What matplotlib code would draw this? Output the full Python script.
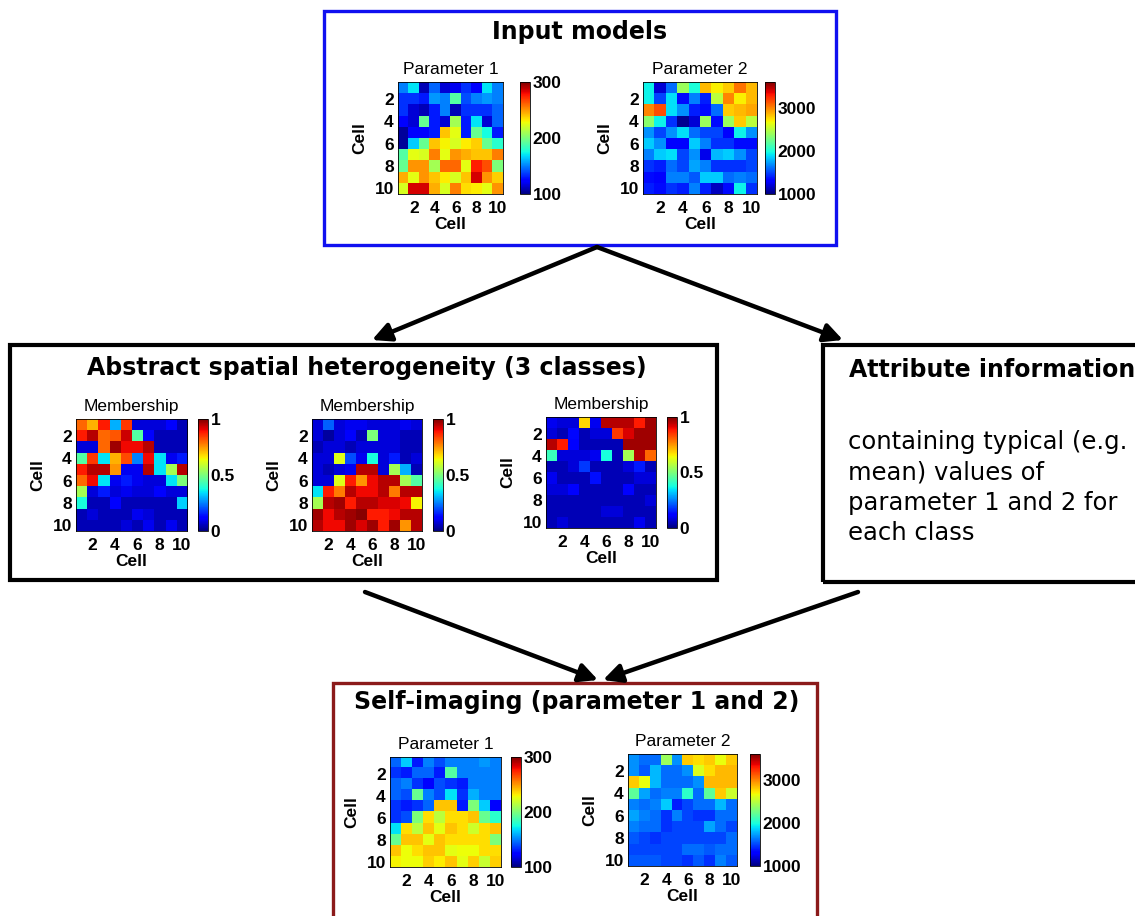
import matplotlib
matplotlib.use("Agg")
import matplotlib.pyplot as plt
import numpy as np
from matplotlib.patches import Rectangle, FancyArrowPatch

W, H = 1135, 916

# ---- data (10x10 cells, row 1 at top) ----
input_p1 = [
    [150, 170, 110, 145, 115, 120, 135, 125, 170, 150],
    [135, 135, 130, 155, 150, 190, 140, 150, 155, 150],
    [135, 115, 110, 130, 150, 110, 135, 135, 135, 145],
    [125, 115, 195, 130, 115, 210, 130, 170, 115, 145],
    [105, 125, 125, 130, 240, 225, 130, 195, 175, 130],
    [105, 165, 195, 240, 230, 222, 232, 238, 195, 180],
    [190, 225, 222, 255, 225, 250, 245, 240, 240, 255],
    [195, 250, 250, 210, 260, 260, 225, 275, 265, 200],
    [245, 225, 250, 240, 232, 222, 240, 285, 250, 238],
    [222, 285, 285, 245, 222, 255, 235, 232, 225, 250],
]
input_p2 = [
    [1950, 1200, 1600, 2400, 2000, 2850, 2700, 2800, 3050, 2850],
    [1950, 1500, 1900, 1350, 1650, 1400, 2500, 3000, 2700, 2850],
    [3000, 3150, 1900, 1700, 1400, 1350, 1600, 2800, 2850, 2900],
    [2350, 1950, 1450, 1050, 1200, 2400, 1350, 2400, 2800, 2500],
    [1700, 1500, 1700, 1900, 1600, 1500, 1500, 1300, 1950, 1700],
    [1850, 1700, 1300, 1300, 1850, 1650, 1450, 1450, 1350, 1350],
    [1650, 1850, 1900, 1500, 1700, 1250, 1800, 1850, 1700, 1500],
    [1450, 1400, 1600, 1500, 1750, 1650, 1450, 1450, 1450, 1500],
    [1350, 1300, 1650, 1650, 1550, 1850, 1850, 1600, 1650, 1600],
    [1400, 1350, 1450, 1400, 1650, 1400, 1150, 1350, 1950, 1450],
]
member_1 = [
    [0.80, 0.72, 0.88, 0.30, 0.85, 0.08, 0.08, 0.08, 0.12, 0.05],
    [0.88, 0.95, 0.80, 0.82, 0.93, 0.45, 0.12, 0.05, 0.05, 0.05],
    [0.08, 0.08, 0.80, 0.97, 0.90, 0.90, 0.95, 0.05, 0.05, 0.05],
    [0.45, 0.85, 0.35, 0.72, 0.83, 0.25, 0.90, 0.35, 0.10, 0.15],
    [0.88, 0.95, 0.95, 0.75, 0.10, 0.10, 0.95, 0.35, 0.55, 0.95],
    [0.80, 0.90, 0.35, 0.10, 0.15, 0.10, 0.08, 0.08, 0.35, 0.50],
    [0.55, 0.08, 0.15, 0.08, 0.10, 0.08, 0.08, 0.12, 0.08, 0.08],
    [0.38, 0.05, 0.05, 0.12, 0.05, 0.05, 0.05, 0.05, 0.05, 0.33],
    [0.05, 0.08, 0.05, 0.05, 0.05, 0.10, 0.08, 0.05, 0.05, 0.05],
    [0.05, 0.05, 0.05, 0.05, 0.08, 0.05, 0.10, 0.05, 0.10, 0.05],
]
member_2 = [
    [0.08, 0.22, 0.08, 0.10, 0.10, 0.08, 0.08, 0.08, 0.10, 0.08],
    [0.08, 0.03, 0.08, 0.12, 0.05, 0.50, 0.08, 0.08, 0.05, 0.05],
    [0.05, 0.08, 0.08, 0.05, 0.08, 0.08, 0.08, 0.08, 0.05, 0.05],
    [0.08, 0.08, 0.62, 0.20, 0.10, 0.38, 0.08, 0.15, 0.05, 0.08],
    [0.08, 0.05, 0.08, 0.10, 0.95, 0.95, 0.08, 0.55, 0.30, 0.05],
    [0.08, 0.08, 0.62, 0.88, 0.75, 0.90, 0.95, 0.95, 0.55, 0.45],
    [0.35, 0.88, 0.78, 0.95, 0.90, 0.90, 0.95, 0.78, 0.95, 0.95],
    [0.55, 0.95, 0.97, 0.88, 0.95, 0.95, 0.92, 0.92, 0.90, 0.65],
    [0.97, 0.90, 0.95, 0.97, 0.99, 0.88, 0.88, 0.90, 0.95, 0.95],
    [0.95, 0.90, 0.90, 0.97, 0.92, 0.97, 0.88, 0.97, 0.75, 0.95],
]
member_3 = [
    [0.10, 0.08, 0.08, 0.68, 0.10, 0.95, 0.95, 0.95, 0.88, 0.97],
    [0.08, 0.05, 0.13, 0.05, 0.08, 0.08, 0.85, 0.92, 0.97, 0.97],
    [0.95, 0.88, 0.12, 0.05, 0.05, 0.05, 0.05, 0.97, 0.97, 0.97],
    [0.42, 0.08, 0.08, 0.08, 0.10, 0.38, 0.05, 0.55, 0.95, 0.80],
    [0.05, 0.05, 0.08, 0.18, 0.05, 0.05, 0.05, 0.08, 0.15, 0.05],
    [0.10, 0.05, 0.05, 0.05, 0.14, 0.05, 0.05, 0.05, 0.08, 0.08],
    [0.08, 0.08, 0.12, 0.05, 0.05, 0.05, 0.05, 0.12, 0.05, 0.05],
    [0.05, 0.05, 0.05, 0.05, 0.05, 0.05, 0.05, 0.05, 0.05, 0.08],
    [0.05, 0.05, 0.05, 0.05, 0.05, 0.08, 0.08, 0.05, 0.05, 0.05],
    [0.05, 0.08, 0.05, 0.05, 0.05, 0.05, 0.05, 0.05, 0.10, 0.05],
]
self_p1 = [
    [145, 165, 130, 150, 140, 150, 150, 150, 155, 150],
    [135, 130, 145, 145, 130, 190, 150, 150, 150, 150],
    [145, 150, 135, 125, 140, 135, 130, 150, 150, 150],
    [145, 140, 195, 150, 140, 170, 135, 160, 150, 150],
    [135, 130, 135, 145, 240, 240, 130, 200, 165, 125],
    [135, 140, 200, 235, 215, 235, 235, 240, 195, 180],
    [170, 235, 215, 240, 225, 240, 235, 220, 235, 240],
    [195, 240, 240, 225, 240, 235, 235, 235, 235, 200],
    [240, 228, 235, 240, 240, 225, 228, 228, 235, 235],
    [230, 228, 228, 238, 232, 240, 225, 238, 218, 238],
]
self_p2 = [
    [1700, 1600, 1600, 2400, 1700, 2800, 2750, 2800, 2650, 2800],
    [1700, 1550, 1800, 1600, 1600, 1700, 2600, 2750, 2850, 2850],
    [2800, 2650, 1800, 1600, 1600, 1600, 1700, 2850, 2850, 2850],
    [2200, 1750, 1600, 1650, 1650, 2050, 1600, 2200, 2800, 2550],
    [1650, 1600, 1650, 1850, 1400, 1500, 1600, 1600, 1800, 1600],
    [1750, 1650, 1600, 1450, 1650, 1500, 1450, 1450, 1600, 1600],
    [1650, 1600, 1600, 1450, 1500, 1500, 1500, 1750, 1600, 1500],
    [1550, 1500, 1450, 1500, 1500, 1500, 1500, 1500, 1500, 1600],
    [1500, 1500, 1500, 1500, 1500, 1600, 1600, 1550, 1600, 1600],
    [1550, 1550, 1550, 1500, 1500, 1450, 1550, 1450, 1650, 1550],
]

cell_ticks = [2, 4, 6, 8, 10]
p1_range, p1_ticks = (100, 300), [100, 200, 300]
p2_range, p2_ticks = (1000, 3600), [1000, 2000, 3000]
mem_range, mem_ticks = (0, 1), [0, 0.5, 1]
mem_ticklabels = ["0", "0.5", "1"]

fig = plt.figure(figsize=(W / 100, H / 100), dpi=100)
ARIAL = "Liberation Sans"
TITLE_FONT = "DejaVu Sans"
TICK_FS = 12.5


def px_axes(x0, y0, x1, y1):
    return fig.add_axes([x0 / W, 1 - y1 / H, (x1 - x0) / W, (y1 - y0) / H])


def heatmap(data, img_box, cbar_x, title, vrange, cticks, clabels=None):
    x0, y0, x1, y1 = img_box
    ax = px_axes(x0, y0, x1, y1)
    im = ax.imshow(np.array(data), cmap="jet", vmin=vrange[0], vmax=vrange[1],
                   extent=(0.5, 10.5, 10.5, 0.5), aspect="auto",
                   interpolation="nearest")
    ax.set_xticks(cell_ticks)
    ax.set_yticks(cell_ticks)
    ax.set_xticklabels([str(t) for t in cell_ticks], family=ARIAL,
                       fontweight="bold", fontsize=TICK_FS)
    ax.set_yticklabels([str(t) for t in cell_ticks], family=ARIAL,
                       fontweight="bold", fontsize=TICK_FS)
    ax.tick_params(axis="x", length=0, pad=5)
    ax.tick_params(axis="y", length=0, pad=3)
    ax.set_xlabel("Cell", family=ARIAL, fontweight="bold", fontsize=12.5, labelpad=1)
    ax.set_ylabel("Cell", family=ARIAL, fontsize=12.5, fontweight="bold", labelpad=5)
    ax.set_title(title, family=ARIAL, fontsize=12.5, pad=6)
    for s in ax.spines.values():
        s.set_linewidth(0.6)

    cax = px_axes(cbar_x, y0, cbar_x + 10, y1)
    cb = fig.colorbar(im, cax=cax)
    cb.set_ticks(cticks)
    cb.set_ticklabels(clabels if clabels else [str(t) for t in cticks])
    cax.tick_params(length=0, pad=2)
    for lab in cax.get_yticklabels():
        lab.set_family(ARIAL)
        lab.set_fontweight("bold")
        lab.set_fontsize(TICK_FS)
    cb.outline.set_linewidth(0.6)
    return ax


def box(x0, y0, x1, y1, color, lw):
    fig.patches.append(Rectangle((x0 / W, 1 - y1 / H), (x1 - x0) / W, (y1 - y0) / H,
                                 transform=fig.transFigure, fill=False,
                                 edgecolor=color, linewidth=lw, zorder=0))


def arrow(xa, ya, xb, yb):
    fig.patches.append(FancyArrowPatch((xa / W, 1 - ya / H), (xb / W, 1 - yb / H),
                                       transform=fig.transFigure,
                                       arrowstyle="-|>", mutation_scale=28,
                                       color="black", linewidth=3.2,
                                       shrinkA=0, shrinkB=0))


def ftext(x, y, s, **kw):
    fig.text(x / W, 1 - y / H, s, **kw)


# boxes
box(324, 11, 836, 245, "#1010f0", 2.4)
box(10, 345, 717, 580, "black", 3.0)
box(823, 345, 1150, 582, "black", 3.0)
box(333, 683, 817, 930, "#8b1a1a", 2.4)

# arrows
arrow(597, 247, 372, 340)
arrow(597, 247, 843, 340)
arrow(365, 592, 598, 680)
arrow(858, 592, 603, 680)

# section titles
ftext(580, 32, "Input models", family=TITLE_FONT, fontweight="bold",
      fontsize=17, ha="center", va="center")
ftext(367, 368, "Abstract spatial heterogeneity (3 classes)", family=TITLE_FONT,
      fontweight="bold", fontsize=17, ha="center", va="center")
ftext(849, 370, "Attribute information", family=TITLE_FONT, fontweight="bold",
      fontsize=17, ha="left", va="center")
ftext(577, 702, "Self-imaging (parameter 1 and 2)", family=TITLE_FONT,
      fontweight="bold", fontsize=17, ha="center", va="center")

attr_lines = ["containing typical (e.g.", "mean) values of",
              "parameter 1 and 2 for", "each class"]
for i, line in enumerate(attr_lines):
    ftext(848, 442 + 30.5 * i, line, family=TITLE_FONT, fontsize=17.5,
          ha="left", va="center")

# heatmaps
heatmap(input_p1, (398, 82, 503, 194), 520, "Parameter 1", p1_range, p1_ticks)
heatmap(input_p2, (643, 82, 757, 194), 765, "Parameter 2", p2_range, p2_ticks)
heatmap(member_1, (76, 419, 187, 531), 198, "Membership", mem_range, mem_ticks, mem_ticklabels)
heatmap(member_2, (312, 419, 422, 531), 433, "Membership", mem_range, mem_ticks, mem_ticklabels)
heatmap(member_3, (546, 417, 656, 528), 667, "Membership", mem_range, mem_ticks, mem_ticklabels)
heatmap(self_p1, (390, 757, 501, 867), 511, "Parameter 1", p1_range, p1_ticks)
heatmap(self_p2, (628, 754, 737, 866), 750, "Parameter 2", p2_range, p2_ticks)

fig.savefig("out.png", dpi=100)
